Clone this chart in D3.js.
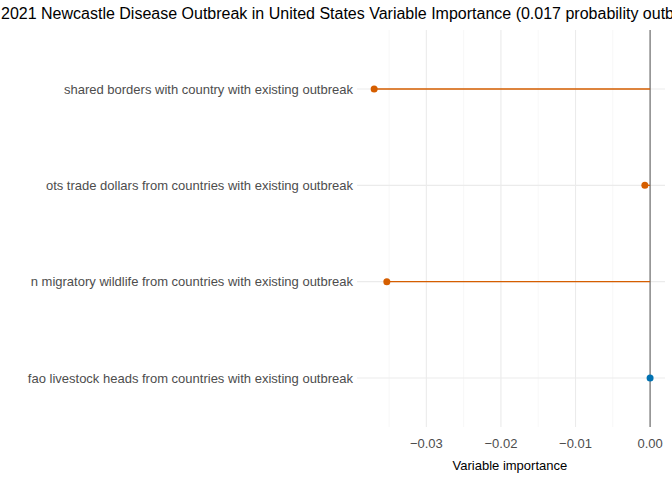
<!DOCTYPE html>
<html><head><meta charset="utf-8">
<script src="https://cdn.jsdelivr.net/npm/d3@7"></script>
<style>body{margin:0;background:#fff}text{font-family:"Liberation Sans",Arial,sans-serif}</style>
</head><body><svg id="c" width="672" height="480"></svg>
<script>
const features = ["shared borders with country with existing outbreak","ots trade dollars from countries with existing outbreak","n migratory wildlife from countries with existing outbreak","fao livestock heads from countries with existing outbreak"];
const importance = [-0.0370, -0.0007, -0.0353, 0.0000];
const colors = ["#D55E00","#D55E00","#D55E00","#0072B2"];
const ticks = [-0.03,-0.02,-0.01,0.00];
const minorTicks = [-0.035,-0.025,-0.015,-0.005];

const svg = d3.select("#c");
const x = d3.scaleLinear().domain([-0.0393,0.002]).range([357,665]);
const y = d3.scalePoint().domain(features).range([89,378]);
const panelTop = 30, panelBottom = 427;

svg.selectAll(".mn").data(minorTicks).join("line")
  .attr("x1",d=>x(d)).attr("x2",d=>x(d)).attr("y1",panelTop).attr("y2",panelBottom)
  .attr("stroke","#f2f2f2").attr("stroke-width",0.6);
svg.selectAll(".mj").data(ticks).join("line")
  .attr("x1",d=>x(d)).attr("x2",d=>x(d)).attr("y1",panelTop).attr("y2",panelBottom)
  .attr("stroke","#ebebeb").attr("stroke-width",1.1);
svg.selectAll(".hg").data(features).join("line")
  .attr("x1",357).attr("x2",665).attr("y1",d=>y(d)).attr("y2",d=>y(d))
  .attr("stroke","#ebebeb").attr("stroke-width",1.1);

svg.append("line").attr("x1",x(0)).attr("x2",x(0)).attr("y1",panelTop).attr("y2",panelBottom)
  .attr("stroke","#555").attr("stroke-width",1);

svg.selectAll(".seg").data(features).join("line")
  .attr("x1",x(0)).attr("x2",(d,i)=>x(importance[i])).attr("y1",d=>y(d)).attr("y2",d=>y(d))
  .attr("stroke",(d,i)=>colors[i]).attr("stroke-width",1.3);
svg.selectAll(".pt").data(features).join("circle")
  .attr("cx",(d,i)=>x(importance[i])).attr("cy",d=>y(d)).attr("r",3.5)
  .attr("fill",(d,i)=>colors[i]);

svg.selectAll(".yl").data(features).join("text")
  .attr("x",353).attr("y",d=>y(d)+4.5).attr("text-anchor","end")
  .attr("font-size",13).attr("fill","#4d4d4d").text(d=>d);
svg.selectAll(".xl").data(ticks).join("text")
  .attr("x",d=>x(d)).attr("y",448).attr("text-anchor","middle")
  .attr("font-size",13).attr("fill","#4d4d4d").text(d=>d3.format(".2f")(d));
svg.append("text").attr("x",x(-0.0188)).attr("y",470).attr("text-anchor","middle")
  .attr("font-size",13).attr("fill","#000").text("Variable importance");
svg.append("text").attr("x",1).attr("y",19).attr("font-size",16).attr("fill","#000")
  .text("2021 Newcastle Disease Outbreak in United States Variable Importance (0.017 probability outbreak)");
</script></body></html>
